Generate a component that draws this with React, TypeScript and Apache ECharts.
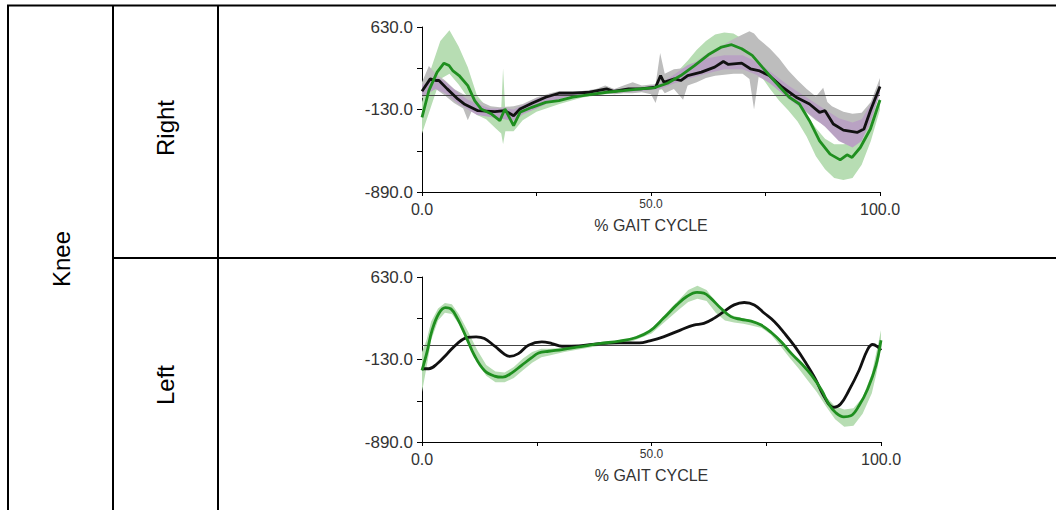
import React, { useEffect, useRef } from "react";
import * as echarts from "echarts";

// ---------- Right knee ----------
const rightBlackX = [0,1.8,3,3.7,5.5,7.8,9.2,12.2,15.9,18.1,20,21.4,24,27,29.9,32.9,36.6,40.3,41.8,45.1,47.7,51,52.1,52.8,55.1,56.5,58,61,63.9,65.8,66.9,69.8,71.7,73.5,75.8,78.7,81.7,84.6,86.8,88,89.8,92,95,96.5,97.9,100];
const rightBlackY = [38,152,137,137,60,-33,-79,-141,-150,-141,-187,-125,-73,-17,20,20,29,60,38,60,60,75,183,121,152,137,183,214,260,312,285,297,245,229,183,75,-17,-79,-156,-141,-264,-320,-341,-310,-141,81];

const rightGreenX = [0,1.5,3.3,4.8,5.9,6.7,8.1,10,11.5,12.9,15.2,17,18.1,20,21.4,24,27,29.9,32.9,36.6,40.3,44,47.7,50.6,53.6,56.5,59.5,62.5,65.4,67.6,69.8,72.1,74.3,77.2,80.2,82.4,84.6,86.8,89.1,91.3,92.8,93.9,95.7,97.9,100];
const rightGreenY = [-202,44,214,297,275,229,183,90,-48,-125,-172,-233,-125,-279,-156,-110,-64,-48,-17,7,29,44,60,69,112,183,275,374,445,467,430,368,260,121,-17,-79,-233,-418,-541,-594,-547,-572,-480,-310,-42];

const rightGreenBandX = [0,2,4,6,8,10,12,14,16,17.3,17.7,18.2,20,22,25,30,35,40,45,50,53,56,58,60,62,64,66,68,70,72,74,76,78,80,82,84,86,88,90,92,94,96,98,100];
const rightGreenBandUpper = [-60,250,500,600,450,260,0,-100,-130,-130,250,-150,-200,-120,-60,-20,20,45,60,90,130,230,320,420,500,560,580,570,520,440,340,230,120,20,-60,-180,-300,-400,-450,-450,-440,-330,-200,-20];
const rightGreenBandLower = [-350,-100,150,200,100,-20,-180,-220,-300,-350,-449,-330,-330,-230,-150,-80,-20,10,30,40,60,120,180,230,280,330,380,380,340,270,180,60,-50,-140,-240,-380,-560,-680,-760,-780,-760,-640,-420,-130];

const rightGrayBandX = [0,1.5,3,5,7,9,10,11,13,15,17,20,22,25,28,30,35,38,40,42,44,46,48,50,51,52,53,55,57,58,60,62,64,66,68,70,71.5,72.5,73.5,76,78,80,82,84,86,87.6,88.5,89.5,92,94,96,98,100];
const rightGrayBandUpper = [120,270,200,140,60,10,0,0,-60,-100,-110,-100,-80,-20,20,40,40,60,90,60,90,120,90,100,100,390,200,240,250,260,320,380,430,470,520,560,590,570,520,430,340,230,140,60,-10,70,-60,-100,-150,-170,-160,-60,160];
const rightGrayBandLower = [-30,40,60,0,-70,-120,-230,-130,-180,-200,-210,-240,-180,-120,-60,-20,0,10,20,10,20,20,30,10,-70,80,20,60,-40,90,120,160,180,190,200,200,150,-130,170,120,50,-20,-90,-160,-230,-270,-300,-330,-370,-420,-400,-270,40];

const rightPurpleBandX = [0,3,5,8,10,12,15,18,20,22,25,28,32,40,48,52,55,58,62,66,70,73,76,80,84,88,91,94,96,98,100];
const rightPurpleBandUpper = [90,170,130,20,-40,-80,-120,-120,-130,-90,-30,10,30,50,70,110,190,280,340,370,370,310,220,90,-20,-130,-210,-250,-220,-80,100];
const rightPurpleBandLower = [-10,60,20,-80,-130,-180,-200,-220,-230,-170,-120,-60,-10,20,40,60,110,150,200,240,240,190,110,-30,-150,-290,-420,-480,-420,-230,20];

// ---------- Left knee ----------
const leftBlackX = [0,1.5,3.3,5.5,7.7,9.9,11.8,13.6,15.8,18,19.1,21,23.2,26.1,28.3,30.5,34.2,38.6,43,47.4,49.6,52.6,56.3,59.2,61.4,63.6,65.8,68,70.2,72.4,74.6,76.8,79,81.3,83.5,85.7,87.5,89.7,91.2,93,95.2,97.1,98.2,99.3,100];
const leftBlackY = [-215,-215,-169,-76,17,73,79,63,-5,-82,-101,-76,2,32,17,-8,-5,17,23,23,42,79,141,187,203,249,311,373,395,373,296,218,110,-14,-153,-308,-463,-571,-540,-416,-231,-36,8,-14,-45];

const leftGreenX = [0,1.1,2.2,3.7,5.1,6.3,7.7,9.6,11.4,13.6,15.8,17.6,19.5,21.7,23.9,25.4,27.6,30.5,34.2,38.6,43,46.7,49.6,52.6,55.5,57.7,59.9,61.4,62.9,65.1,67.3,69.5,71.7,73.9,76.1,78.3,80.5,82.7,84.9,87.1,88.6,90.1,91.9,93.4,95.2,97.1,98.9,100];
const leftGreenY = [-231,-60,141,296,348,336,249,79,-91,-231,-283,-293,-255,-184,-113,-70,-54,-39,-14,17,39,73,131,249,373,450,488,481,435,342,265,240,224,187,119,32,-76,-169,-277,-416,-540,-618,-658,-649,-556,-401,-184,48];

const leftGreenBandX = [0,1,2,3.5,5,6.5,8,10,12,14,16,18,20,22,24,26,28,31,35,40,45,50,53,56,58,60,62,64,66,68,70,72,74,76,78,80,82,84,86,88,90,92,94,96,98,99,100];
const leftGreenBandUpper = [-60,50,220,340,390,380,290,130,-40,-180,-240,-250,-200,-120,-60,-30,-30,-20,0,30,55,150,290,420,510,550,510,400,300,270,250,230,200,140,60,-40,-130,-220,-330,-470,-560,-590,-580,-480,-260,-60,140];
const leftGreenBandLower = [-430,-200,50,230,300,290,200,20,-150,-280,-340,-340,-300,-230,-160,-110,-90,-60,-30,5,25,110,220,330,400,430,410,300,230,210,200,180,160,100,0,-110,-210,-320,-430,-560,-680,-750,-740,-630,-440,-260,-30];

// ---------- Axes ----------
const yMin = -890;
const yMax = 630;
const yStep = 380;
const yLabels = [-890, -130, 630];
const xName = "% GAIT CYCLE";
const FONT = "'Liberation Sans', Arial, sans-serif";

const zip = (xs: number[], ys: number[]) => xs.map((x, i) => [x, ys[i]]);

function band(xs: number[], up: number[], lo: number[], color: string, gi: number, z: number) {
  return {
    type: "custom",
    xAxisIndex: gi,
    yAxisIndex: gi,
    silent: true,
    z,
    data: [[0, 0]],
    renderItem: (_p: any, api: any) => {
      const top = xs.map((x, i) => api.coord([x, up[i]]));
      const bot = xs.map((x, i) => api.coord([x, lo[i]])).reverse();
      return { type: "polygon", shape: { points: top.concat(bot) }, style: { fill: color } };
    },
  };
}

function line(xs: number[], ys: number[], color: string, gi: number, smooth: number | boolean, z: number, withZero = false) {
  const s: any = {
    type: "line",
    xAxisIndex: gi,
    yAxisIndex: gi,
    data: zip(xs, ys),
    showSymbol: false,
    smooth,
    z,
    lineStyle: { color, width: 2.8 },
  };
  if (withZero) {
    s.markLine = {
      silent: true,
      symbol: "none",
      label: { show: false },
      lineStyle: { color: "#444", width: 1, type: "solid" },
      data: [{ yAxis: 0 }],
    };
  }
  return s;
}

export default function App() {
  const ref = useRef<HTMLDivElement>(null);
  useEffect(() => {
    if (!ref.current) return;
    const chart = echarts.init(ref.current, null, { renderer: "svg" });
    const xAxis = [0, 1].map((i) => ({
      gridIndex: i,
      type: "value",
      min: 0,
      max: 100,
      interval: 25,
      splitLine: { show: false },
      axisLine: { show: true, onZero: false, lineStyle: { color: "#000", width: 1 } },
      axisTick: { show: true, length: 4, lineStyle: { color: "#000" } },
      axisLabel: {
        margin: 6,
        formatter: (v: number) => (v === 50 ? "{s|50.0}" : v === 0 || v === 100 ? "{b|" + v.toFixed(1) + "}" : ""),
        rich: {
          b: { fontSize: 16, color: "#333", fontFamily: FONT, padding: [3, 0, 0, 0] },
          s: { fontSize: 12, color: "#333", fontFamily: FONT },
        },
      },
      name: xName,
      nameLocation: "middle",
      nameGap: 24,
      nameTextStyle: { fontSize: 16, color: "#333", fontFamily: FONT },
    }));
    const yAxis = [0, 1].map((i) => ({
      gridIndex: i,
      type: "value",
      min: yMin,
      max: yMax,
      interval: yStep,
      splitLine: { show: false },
      axisLine: { show: true, onZero: false, lineStyle: { color: "#000", width: 1 } },
      axisTick: { show: true, length: 5, lineStyle: { color: "#000" } },
      axisLabel: {
        margin: 9,
        showMinLabel: true,
        showMaxLabel: true,
        fontSize: 17,
        color: "#333",
        fontFamily: FONT,
        formatter: (v: number) => {
          const r = Math.round(v);
          if (!yLabels.includes(r)) return "";
          return r.toFixed(1);
        },
      },
    }));
    const lineStyle = { stroke: "#000", lineWidth: 2 };
    const txt = (t: string, x: number, y: number) => ({
      type: "text",
      x,
      y,
      rotation: Math.PI / 2,
      style: { text: t, fontSize: 24, fontFamily: FONT, fill: "#000", align: "center", verticalAlign: "middle" },
    });
    chart.setOption({
      animation: false,
      textStyle: { fontFamily: FONT },
      grid: [
        { left: 422, top: 27, width: 458, height: 165 },
        { left: 422, top: 277, width: 459, height: 165 },
      ],
      xAxis,
      yAxis,
      graphic: [
        { type: "line", shape: { x1: 7, y1: 5.5, x2: 1056, y2: 5.5 }, style: lineStyle },
        { type: "line", shape: { x1: 8, y1: 5, x2: 8, y2: 510 }, style: lineStyle },
        { type: "line", shape: { x1: 113, y1: 5, x2: 113, y2: 510 }, style: lineStyle },
        { type: "line", shape: { x1: 218, y1: 5, x2: 218, y2: 510 }, style: lineStyle },
        { type: "line", shape: { x1: 113, y1: 258, x2: 1056, y2: 258 }, style: lineStyle },
        txt("Knee", 61, 259),
        txt("Right", 165, 128),
        txt("Left", 165, 385),
      ],
      series: [
        band(rightGreenBandX, rightGreenBandUpper, rightGreenBandLower, "#b7ddb3", 0, 1),
        band(rightGrayBandX, rightGrayBandUpper, rightGrayBandLower, "#bdbdbd", 0, 2),
        band(rightPurpleBandX, rightPurpleBandUpper, rightPurpleBandLower, "#b9a2c3", 0, 3),
        line(rightBlackX, rightBlackY, "#111", 0, false, 5, true),
        line(rightGreenX, rightGreenY, "#1f8f1f", 0, false, 6),
        band(leftGreenBandX, leftGreenBandUpper, leftGreenBandLower, "#b7ddb3", 1, 1),
        line(leftBlackX, leftBlackY, "#111", 1, 0.4, 5, true),
        line(leftGreenX, leftGreenY, "#1f8f1f", 1, 0.4, 6),
      ],
    });
    return () => chart.dispose();
  }, []);
  return <div ref={ref} style={{ position: "fixed", left: 0, top: 0, width: 1056, height: 510, background: "#fff" }} />;
}
